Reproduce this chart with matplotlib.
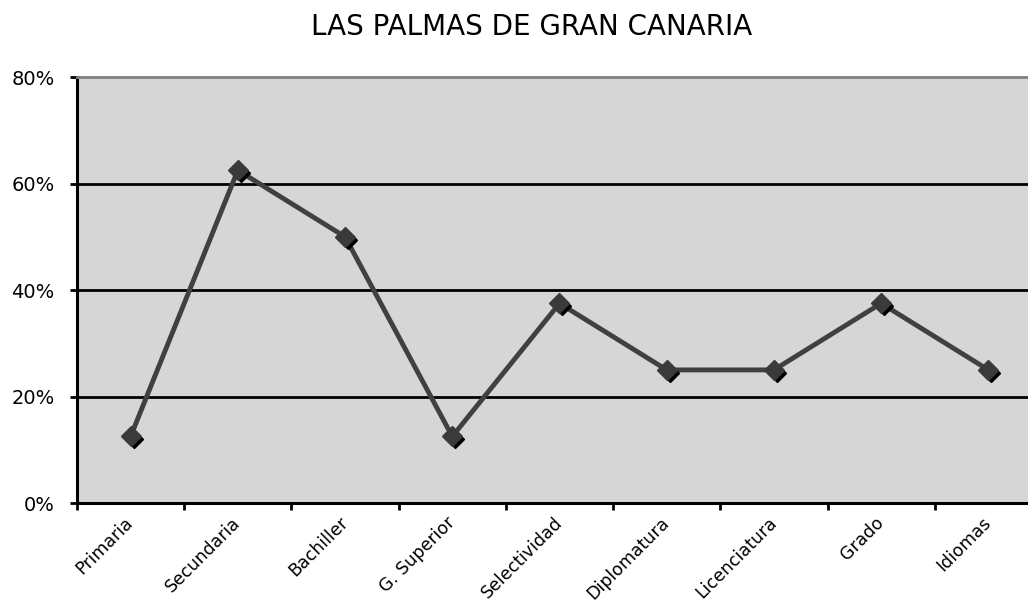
import numpy as np
import matplotlib
matplotlib.use("Agg")
import matplotlib.pyplot as plt
from matplotlib.transforms import ScaledTranslation

categories = ['Primaria', 'Secundaria', 'Bachiller', 'G. Superior', 'Selectividad',
              'Diplomatura', 'Licenciatura', 'Grado', 'Idiomas']
values = [12.5, 62.5, 50.0, 12.5, 37.5, 25.0, 25.0, 37.5, 25.0]
y_ticks = [0, 20, 40, 60, 80]

plt.rcParams['font.family'] = ['DejaVu Sans']

fig = plt.figure(figsize=(10.28, 6.07), dpi=100)
ax = fig.add_axes([0.0749, 0.1713, 0.9387, 0.7017])
ax.set_facecolor('#d6d6d6')

x = np.arange(len(categories))

# horizontal gridlines
for yv in y_ticks[1:-1]:
    ax.axhline(yv, color='black', lw=2, zorder=1)

ax.plot(x, values, color='#404040', lw=3.5, zorder=3)
# marker shadow
shadow = ax.transData + ScaledTranslation(3 / 100, -3 / 100, fig.dpi_scale_trans)
ax.plot(x, values, linestyle='none', marker='D', ms=9, color='black',
        transform=shadow, zorder=4)
ax.plot(x, values, linestyle='none', marker='D', ms=10, color='#3a3a3a',
        zorder=5)

ax.set_xlim(-0.5, len(categories) - 0.5)
ax.set_ylim(0, 80)

ax.set_yticks(y_ticks)
ax.set_yticklabels([f'{v}%' for v in y_ticks], fontsize=14)
ax.set_xticks(np.arange(-0.5, len(categories)), labels=[''] * (len(categories) + 1))
ax.set_xticks(x, minor=True)
ax.set_xticklabels(categories, minor=True, rotation=45, ha='right', va='center',
                   rotation_mode='anchor', fontsize=12.5)
ax.tick_params(axis='x', which='minor', length=0, pad=12)
ax.tick_params(axis='y', which='major', pad=11)
ax.tick_params(axis='both', which='major', length=5, width=2, direction='out')

for side in ['left', 'bottom']:
    ax.spines[side].set_linewidth(2.2)
    ax.spines[side].set_color('black')
ax.spines['top'].set_color('#808080')
ax.spines['top'].set_linewidth(2)
ax.spines['right'].set_visible(False)

fig.text(0.517, 0.955, 'LAS PALMAS DE GRAN CANARIA', ha='center', va='center',
         fontsize=20)

fig.savefig('out.png', dpi=100)
